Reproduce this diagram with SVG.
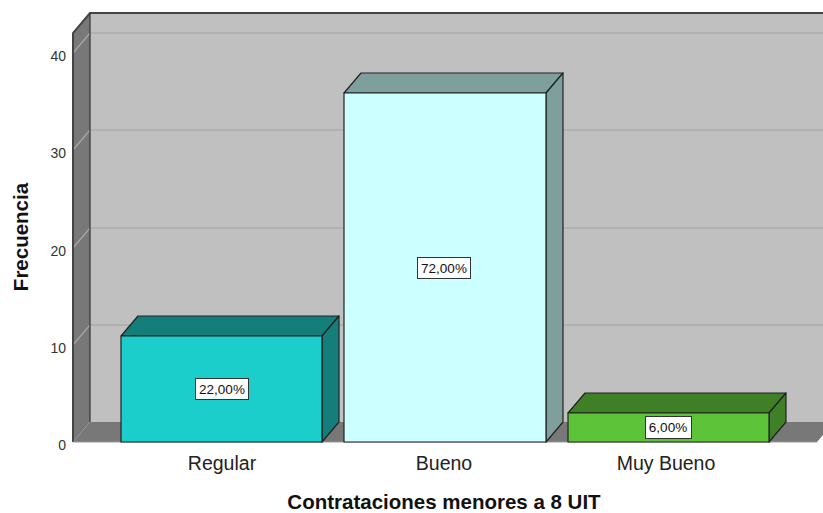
<svg xmlns="http://www.w3.org/2000/svg" width="823" height="513" viewBox="0 0 823 513">
<style>
.tick{font-family:"Liberation Sans",Arial,sans-serif;font-size:14px;fill:#333;text-anchor:end}
.cat{font-family:"Liberation Sans",Arial,sans-serif;font-size:19.5px;fill:#222;text-anchor:middle}
.title{font-family:"Liberation Sans",Arial,sans-serif;font-size:20.5px;font-weight:bold;fill:#111;text-anchor:middle}
.lbl{font-family:"Liberation Sans",Arial,sans-serif;font-size:13.5px;fill:#111;text-anchor:middle}
.lblbox{fill:#fff;stroke:#333;stroke-width:1}
.edge{stroke:#222;stroke-width:1.2;stroke-linejoin:round}
.grid{stroke:#acacac;stroke-width:1.5}
.sgrid{stroke:#a8a8a8;stroke-width:1.2}
</style>
<rect width="823" height="513" fill="#fff"/>
<g id="frame">
<rect x="90" y="13" width="733" height="409" fill="#c0c0c0"/>
<line class="grid" x1="90" y1="33" x2="823" y2="33"/>
<line class="grid" x1="90" y1="130" x2="823" y2="130"/>
<line class="grid" x1="90" y1="228" x2="823" y2="228"/>
<line class="grid" x1="90" y1="325" x2="823" y2="325"/>
<polygon points="73,33 90,13 90,422 73,442" fill="#787878"/>
<line class="sgrid" x1="73" y1="53" x2="90" y2="33"/>
<line class="sgrid" x1="73" y1="150" x2="90" y2="130"/>
<line class="sgrid" x1="73" y1="248" x2="90" y2="228"/>
<line class="sgrid" x1="73" y1="345" x2="90" y2="325"/>
<polygon points="73,442 90,422 823,422 823,435 817,442" fill="#787878"/>
<polyline points="73,442 73,33 90,13 823,13" fill="none" stroke="#444" stroke-width="2"/>
<line x1="90" y1="13" x2="90" y2="422" stroke="#333" stroke-width="1.2"/>
<line x1="73" y1="442" x2="817" y2="442" stroke="#999" stroke-width="1"/>
</g>
<g id="axis-y">
<text class="tick" x="66" y="61">40</text>
<text class="tick" x="66" y="158">30</text>
<text class="tick" x="66" y="256">20</text>
<text class="tick" x="66" y="353">10</text>
<text class="tick" x="66" y="450">0</text>
<text class="title" transform="translate(28,237) rotate(-90)">Frecuencia</text>
</g>
<g id="bar-regular">
<polygon class="edge" points="121,336 138,316 339,316 322,336" fill="#147e7a"/>
<polygon class="edge" points="322,336 339,316 339,422 322,442" fill="#147e7a"/>
<rect class="edge" x="121" y="336" width="201" height="106" fill="#1ccecb"/>
<rect class="lblbox" x="195.5" y="378.5" width="53" height="21"/>
<text class="lbl" x="222" y="394">22,00%</text>
</g>
<g id="bar-bueno">
<polygon class="edge" points="344,93 361,73 563,73 546,93" fill="#7f9f9c"/>
<polygon class="edge" points="546,93 563,73 563,422 546,442" fill="#7f9f9c"/>
<rect class="edge" x="344" y="93" width="202" height="349" fill="#ccffff"/>
<rect class="lblbox" x="417.5" y="257.5" width="53" height="21"/>
<text class="lbl" x="444" y="273">72,00%</text>
</g>
<g id="bar-muy-bueno">
<polygon class="edge" points="568,413 585,393 786,393 769,413" fill="#3f7f25"/>
<polygon class="edge" points="769,413 786,393 786,422 769,442" fill="#3f7f25"/>
<rect class="edge" x="568" y="413" width="201" height="29" fill="#5dc43a"/>
<rect class="lblbox" x="645.5" y="416.5" width="46" height="22"/>
<text class="lbl" x="668" y="432">6,00%</text>
</g>
<g id="axis-x">
<text class="cat" x="222" y="470">Regular</text>
<text class="cat" x="444" y="470">Bueno</text>
<text class="cat" x="666" y="470">Muy Bueno</text>
<text class="title" x="444" y="509">Contrataciones menores a 8 UIT</text>
</g>
</svg>
